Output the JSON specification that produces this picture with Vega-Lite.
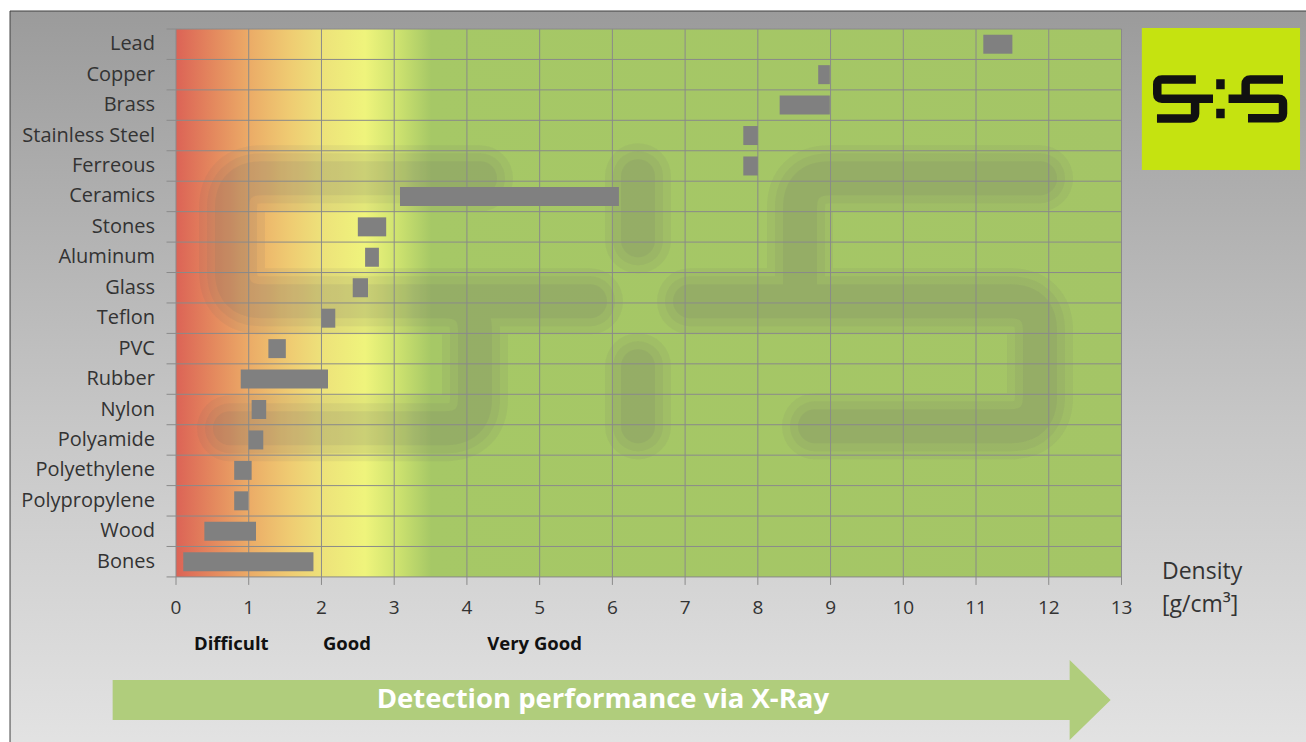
{
  "$schema": "https://vega.github.io/schema/vega-lite/v6.json",
  "width": 1130,
  "height": 742,
  "autosize": {"type": "none"},
  "padding": {"left": 176, "top": 0, "right": 0, "bottom": 0},
  "background": "#ffffff",
  "config": {"view": {"stroke": null}, "font": "Open Sans"},
  "datasets": {
    "materials": [
      {"material": "Lead", "min": 11.1, "max": 11.5},
      {"material": "Copper", "min": 8.83, "max": 8.99},
      {"material": "Brass", "min": 8.3, "max": 8.99},
      {"material": "Stainless Steel", "min": 7.8, "max": 8.0},
      {"material": "Ferreous", "min": 7.8, "max": 8.0},
      {"material": "Ceramics", "min": 3.08, "max": 6.09},
      {"material": "Stones", "min": 2.5, "max": 2.89},
      {"material": "Aluminum", "min": 2.6, "max": 2.79},
      {"material": "Glass", "min": 2.43, "max": 2.64},
      {"material": "Teflon", "min": 2.0, "max": 2.19},
      {"material": "PVC", "min": 1.27, "max": 1.51},
      {"material": "Rubber", "min": 0.89, "max": 2.09},
      {"material": "Nylon", "min": 1.04, "max": 1.24},
      {"material": "Polyamide", "min": 1.0, "max": 1.2},
      {"material": "Polyethylene", "min": 0.8, "max": 1.04},
      {"material": "Polypropylene", "min": 0.8, "max": 0.99},
      {"material": "Wood", "min": 0.39, "max": 1.1},
      {"material": "Bones", "min": 0.1, "max": 1.89}
    ],
    "vgrid": [{"d": 0}, {"d": 1}, {"d": 2}, {"d": 3}, {"d": 4}, {"d": 5}, {"d": 6}, {"d": 7}, {"d": 8}, {"d": 9}, {"d": 10}, {"d": 11}, {"d": 12}, {"d": 13}],
    "hgrid": [{"b": 0.5}, {"b": 1.5}, {"b": 2.5}, {"b": 3.5}, {"b": 4.5}, {"b": 5.5}, {"b": 6.5}, {"b": 7.5}, {"b": 8.5}, {"b": 9.5}, {"b": 10.5}, {"b": 11.5}, {"b": 12.5}, {"b": 13.5}, {"b": 14.5}, {"b": 15.5}, {"b": 16.5}, {"b": 17.5}, {"b": 18.5}],
    "ratings": [
      {"label": "Difficult", "density": 0.76},
      {"label": "Good", "density": 2.35},
      {"label": "Very Good", "density": 4.93}
    ],
    "one": [{}]
  },
  "layer": [
    {
      "data": {"name": "one"},
      "mark": {
        "type": "rect",
        "stroke": "#404040",
        "strokeWidth": 1,
        "fill": {"gradient": "linear", "x1": 0, "y1": 0, "x2": 0, "y2": 1,
          "stops": [{"offset": 0, "color": "#9b9b9b"}, {"offset": 0.55, "color": "#c6c6c6"}, {"offset": 1, "color": "#e3e3e3"}]}
      },
      "encoding": {
        "x": {"datum": -2.282, "type": "quantitative", "scale": {"domain": [0, 15.537], "nice": false, "zero": false, "padding": 0}, "axis": null},
        "x2": {"datum": 15.7},
        "y": {"datum": -0.091, "type": "quantitative", "scale": {"domain": [-0.4527, 23.923], "reverse": true, "nice": false, "zero": false, "padding": 0}, "axis": null},
        "y2": {"datum": 24.2}
      }
    },
    {
      "data": {"name": "one"},
      "mark": {
        "type": "rect",
        "fill": {"gradient": "linear", "x1": 0, "y1": 0, "x2": 1, "y2": 0,
          "stops": [
            {"offset": 0, "color": "#dc6356"},
            {"offset": 0.04, "color": "#e4895e"},
            {"offset": 0.077, "color": "#ebab67"},
            {"offset": 0.12, "color": "#efcb72"},
            {"offset": 0.155, "color": "#ede27a"},
            {"offset": 0.2, "color": "#eff47c"},
            {"offset": 0.235, "color": "#cde26f"},
            {"offset": 0.27, "color": "#a6c866"},
            {"offset": 1, "color": "#a4c566"}
          ]}
      },
      "encoding": {
        "x": {"datum": 0, "type": "quantitative", "axis": null},
        "x2": {"datum": 13},
        "y": {"datum": 0.5, "type": "quantitative", "axis": null},
        "y2": {"datum": 18.5}
      }
    },
    {
      "data": {"name": "one"},
      "layer": [
        {"mark": {"type": "point", "filled": false, "size": 1000000, "stroke": "#6e6e6e", "strokeWidth": 66, "strokeOpacity": 0.12, "strokeCap": "round", "strokeJoin": "round",
          "shape": "M-0.32,-0.25L-0.756,-0.25Q-0.816,-0.25,-0.816,-0.19L-0.816,-0.064Q-0.816,-0.004,-0.756,-0.004L-0.1,-0.004M-0.39,-0.004Q-0.33,-0.004,-0.33,0.056L-0.33,0.19Q-0.33,0.25,-0.39,0.25L-0.82,0.25M0.8,-0.25L0.38,-0.25Q0.32,-0.25,0.32,-0.19L0.32,-0.004M0.1,-0.004L0.74,-0.004Q0.8,-0.004,0.8,0.056L0.8,0.186Q0.8,0.246,0.74,0.246L0.35,0.246M-0.004,-0.254L-0.004,-0.126M-0.004,0.126L-0.004,0.246"}},
        {"mark": {"type": "point", "filled": false, "size": 1000000, "stroke": "#6e6e6e", "strokeWidth": 50, "strokeOpacity": 0.13, "strokeCap": "round", "strokeJoin": "round",
          "shape": "M-0.32,-0.25L-0.756,-0.25Q-0.816,-0.25,-0.816,-0.19L-0.816,-0.064Q-0.816,-0.004,-0.756,-0.004L-0.1,-0.004M-0.39,-0.004Q-0.33,-0.004,-0.33,0.056L-0.33,0.19Q-0.33,0.25,-0.39,0.25L-0.82,0.25M0.8,-0.25L0.38,-0.25Q0.32,-0.25,0.32,-0.19L0.32,-0.004M0.1,-0.004L0.74,-0.004Q0.8,-0.004,0.8,0.056L0.8,0.186Q0.8,0.246,0.74,0.246L0.35,0.246M-0.004,-0.254L-0.004,-0.126M-0.004,0.126L-0.004,0.246"}},
        {"mark": {"type": "point", "filled": false, "size": 1000000, "stroke": "#6e6e6e", "strokeWidth": 34, "strokeOpacity": 0.15, "strokeCap": "round", "strokeJoin": "round",
          "shape": "M-0.32,-0.25L-0.756,-0.25Q-0.816,-0.25,-0.816,-0.19L-0.816,-0.064Q-0.816,-0.004,-0.756,-0.004L-0.1,-0.004M-0.39,-0.004Q-0.33,-0.004,-0.33,0.056L-0.33,0.19Q-0.33,0.25,-0.39,0.25L-0.82,0.25M0.8,-0.25L0.38,-0.25Q0.32,-0.25,0.32,-0.19L0.32,-0.004M0.1,-0.004L0.74,-0.004Q0.8,-0.004,0.8,0.056L0.8,0.186Q0.8,0.246,0.74,0.246L0.35,0.246M-0.004,-0.254L-0.004,-0.126M-0.004,0.126L-0.004,0.246"}}
      ],
      "encoding": {
        "x": {"datum": 6.38, "type": "quantitative", "axis": null},
        "y": {"datum": 9.51, "type": "quantitative", "axis": null}
      }
    },
    {
      "data": {"name": "vgrid"},
      "layer": [
        {
          "mark": {"type": "rule", "color": "#8a8a8a", "strokeWidth": 1},
          "encoding": {
            "y": {"datum": 0.5, "type": "quantitative", "axis": null},
            "y2": {"datum": 18.763}
          }
        },
        {
          "mark": {"type": "text", "font": "Open Sans", "fontSize": 19, "color": "#333333", "align": "center", "baseline": "middle"},
          "encoding": {
            "text": {"field": "d", "type": "quantitative"},
            "y": {"datum": 19.52, "type": "quantitative", "axis": null}
          }
        }
      ],
      "encoding": {
        "x": {"field": "d", "type": "quantitative", "axis": null}
      }
    },
    {
      "data": {"name": "hgrid"},
      "mark": {"type": "rule", "color": "#8a8a8a", "strokeWidth": 1},
      "encoding": {
        "y": {"field": "b", "type": "quantitative", "axis": null},
        "x": {"datum": -0.13, "type": "quantitative", "axis": null},
        "x2": {"datum": 13}
      }
    },
    {
      "data": {"name": "materials"},
      "transform": [{"window": [{"op": "row_number", "as": "row"}]}],
      "layer": [
        {
          "mark": {"type": "bar", "orient": "horizontal", "size": 19, "color": "#808080"},
          "encoding": {
            "x": {"field": "min", "type": "quantitative", "scale": {"domain": [0, 15.537], "nice": false, "zero": false, "padding": 0}, "axis": null},
            "x2": {"field": "max"},
            "y": {"field": "row", "type": "quantitative",
              "scale": {"domain": [-0.4527, 23.923], "reverse": true, "nice": false, "zero": false, "padding": 0},
              "axis": null}
          }
        },
        {
          "mark": {"type": "text", "align": "right", "baseline": "middle", "font": "Open Sans", "fontSize": 20, "color": "#333333"},
          "encoding": {
            "text": {"field": "material"},
            "x": {"datum": -0.289, "type": "quantitative", "axis": null},
            "y": {"field": "row", "type": "quantitative", "axis": null}
          }
        }
      ]
    },
    {
      "data": {"name": "one"},
      "mark": {"type": "rect", "fill": "#c5e310"},
      "encoding": {
        "x": {"datum": 13.28, "type": "quantitative", "axis": null},
        "x2": {"datum": 15.455},
        "y": {"datum": 0.467, "type": "quantitative", "axis": null},
        "y2": {"datum": 5.132}
      }
    },
    {
      "data": {"name": "one"},
      "mark": {"type": "point", "filled": false, "size": 24211, "stroke": "#111111", "strokeWidth": 8.5, "strokeOpacity": 1, "opacity": 1, "strokeCap": "butt", "strokeJoin": "round",
        "shape": "M-0.32,-0.25L-0.756,-0.25Q-0.816,-0.25,-0.816,-0.19L-0.816,-0.064Q-0.816,-0.004,-0.756,-0.004L-0.1,-0.004M-0.39,-0.004Q-0.33,-0.004,-0.33,0.056L-0.33,0.19Q-0.33,0.25,-0.39,0.25L-0.82,0.25M0.8,-0.25L0.38,-0.25Q0.32,-0.25,0.32,-0.19L0.32,-0.004M0.1,-0.004L0.74,-0.004Q0.8,-0.004,0.8,0.056L0.8,0.186Q0.8,0.246,0.74,0.246L0.35,0.246M-0.004,-0.254L-0.004,-0.126M-0.004,0.126L-0.004,0.246"},
      "encoding": {
        "x": {"datum": 14.365, "type": "quantitative", "axis": null},
        "y": {"datum": 2.8, "type": "quantitative", "axis": null}
      }
    },
    {
      "data": {"name": "one"},
      "mark": {"type": "text", "text": ["Density", "[g/cm³]"], "font": "Open Sans", "fontSize": 23, "lineHeight": 33, "color": "#333333", "align": "left", "baseline": "middle"},
      "encoding": {
        "x": {"datum": 13.557, "type": "quantitative", "axis": null},
        "y": {"datum": 18.34, "type": "quantitative", "axis": null}
      }
    },
    {
      "data": {"name": "ratings"},
      "mark": {"type": "text", "font": "Open Sans", "fontWeight": "bold", "fontSize": 18.5, "color": "#111111", "align": "center", "baseline": "middle"},
      "encoding": {
        "text": {"field": "label"},
        "x": {"field": "density", "type": "quantitative", "axis": null},
        "y": {"datum": 20.7, "type": "quantitative", "axis": null}
      }
    },
    {
      "data": {"name": "one"},
      "mark": {"type": "point", "filled": true, "opacity": 1, "color": "#b0cd7c", "size": 1000000,
        "shape": "M-0.998,-0.04L0.916,-0.04L0.916,-0.08L0.998,0L0.916,0.08L0.916,0.04L-0.998,0.04Z"},
      "encoding": {
        "x": {"datum": 5.99, "type": "quantitative", "axis": null},
        "y": {"datum": 22.54, "type": "quantitative", "axis": null}
      }
    },
    {
      "data": {"name": "one"},
      "mark": {"type": "text", "text": "Detection performance via X-Ray", "font": "Open Sans", "fontWeight": "bold", "fontSize": 27.5, "color": "#ffffff", "align": "center", "baseline": "middle"},
      "encoding": {
        "x": {"datum": 5.87, "type": "quantitative", "axis": null},
        "y": {"datum": 22.54, "type": "quantitative", "axis": null}
      }
    }
  ]
}
